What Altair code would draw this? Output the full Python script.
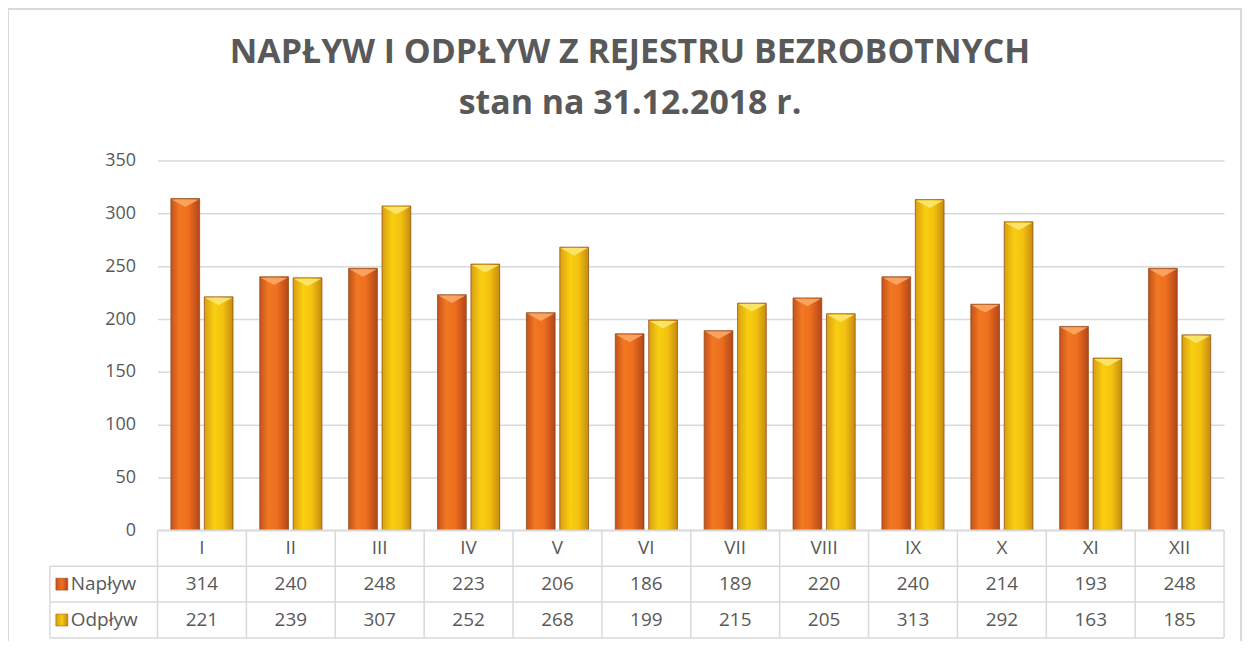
import altair as alt
import pandas as pd

months = ["I", "II", "III", "IV", "V", "VI", "VII", "VIII", "IX", "X", "XI", "XII"]
naplyw = [314, 240, 248, 223, 206, 186, 189, 220, 240, 214, 193, 248]
odplyw = [221, 239, 307, 252, 268, 199, 215, 205, 313, 292, 163, 185]
series = ["Napływ", "Odpływ"]
y_ticks = [0, 50, 100, 150, 200, 250, 300, 350]
title_lines = ["NAPŁYW I ODPŁYW Z REJESTRU BEZROBOTNYCH", "stan na 31.12.2018 r."]

W, H = 1070, 371
FONT = "Open Sans"
GRAY = "#595959"
LINE = "#d9d9d9"

long = pd.DataFrame({
    "month": months * 2,
    "series": [series[0]] * len(months) + [series[1]] * len(months),
    "value": naplyw + odplyw,
})
wide = pd.DataFrame({"month": months})
legend_df = pd.DataFrame({"series": series})
title_df = pd.DataFrame({"line": [0, 1], "text": title_lines})


def grad(stops):
    return alt.Gradient(
        gradient="linear", x1=0, y1=0, x2=1, y2=0,
        stops=[alt.GradientStop(color=c, offset=o) for o, c in stops],
    )


orange = grad([(0, "#c4521c"), (0.3, "#f27822"), (0.6, "#ee6f1e"), (1, "#b4461a")])
yellow = grad([(0, "#d99e12"), (0.35, "#f9cf10"), (0.65, "#f3c10e"), (1, "#c58c10")])
orange_sq = grad([(0, "#c4521c"), (0.5, "#f07020"), (1, "#b4461a")])
yellow_sq = grad([(0, "#d99e12"), (0.5, "#f6c812"), (1, "#c58c10")])

xs = alt.Scale(domain=months, paddingInner=0, paddingOuter=0)
x_enc = alt.X("month:N", sort=months, scale=xs, axis=None)
x_edge = alt.X("month:N", sort=months, scale=xs, axis=None, bandPosition=0)
xoff = alt.XOffset("series:N", scale=alt.Scale(domain=series, paddingInner=0.14, paddingOuter=0.4))
y_enc = alt.Y(
    "value:Q",
    scale=alt.Scale(domain=[0, 350], nice=False),
    axis=alt.Axis(
        values=y_ticks, grid=True, gridColor=LINE, gridWidth=1.5, domain=False, ticks=False,
        labelColor=GRAY, labelFont=FONT, labelFontSize=18, labelPadding=22, title=None,
    ),
)

layers = []

# outer border
one = alt.Data(values=[{"a": 1}])
layers.append(
    alt.Chart(one).mark_rect(fill=None, stroke=LINE, strokeWidth=2).encode(
        x=alt.value(-150), x2=alt.value(W + 17), y=alt.value(-152), y2=alt.value(H + 130)
    )
)

# title
for i in range(2):
    layers.append(
        alt.Chart(title_df).transform_filter(alt.datum.line == i).mark_text(
            font=FONT, fontSize=34, fontWeight="bold", color=GRAY, align="center", baseline="middle"
        ).encode(x=alt.value(474), y=alt.value(-108 + 51 * i), text="text:N")
    )

for s, g, tri in [(series[0], orange, "#f9a563"), (series[1], yellow, "#fbe56e")]:
    base = alt.Chart(long).transform_filter(alt.datum.series == s)
    layers.append(
        base.mark_bar(fill=g, stroke="#8a420e", strokeWidth=1, strokeOpacity=0.7).encode(
            x=x_enc, xOffset=xoff, y=y_enc
        )
    )
    layers.append(
        base.mark_point(
            shape="M-1,-1L1,-1L0,-0.45Z", filled=True, size=740, yOffset=14.5, color=tri, opacity=0.95
        ).encode(x=x_enc, xOffset=xoff, y=y_enc)
    )

# table lines
rule = dict(color=LINE, strokeWidth=1.5)
layers.append(alt.Chart(wide).mark_rule(**rule).encode(x=x_edge, y=alt.value(H), y2=alt.value(H + 108)))
layers.append(alt.Chart(one).mark_rule(**rule).encode(x=alt.value(W), y=alt.value(H), y2=alt.value(H + 108)))
layers.append(alt.Chart(one).mark_rule(**rule).encode(x=alt.value(-108), y=alt.value(H + 36), y2=alt.value(H + 108)))
layers.append(alt.Chart(one).mark_rule(**rule).encode(x=alt.value(0), x2=alt.value(W), y=alt.value(H)))
for k in (1, 2, 3):
    layers.append(
        alt.Chart(one).mark_rule(**rule).encode(x=alt.value(-108), x2=alt.value(W), y=alt.value(H + 36 * k))
    )

# table texts
txt = dict(font=FONT, fontSize=19, color=GRAY, baseline="middle", align="center")
layers.append(alt.Chart(wide).mark_text(**txt).encode(x=x_enc, y=alt.value(H + 18), text="month:N"))
for i, s in enumerate(series):
    layers.append(
        alt.Chart(long).transform_filter(alt.datum.series == s).mark_text(**txt).encode(
            x=x_enc, y=alt.value(H + 54 + 36 * i), text="value:Q"
        )
    )
    layers.append(
        alt.Chart(legend_df).transform_filter(alt.datum.series == s).mark_rect(
            fill=orange_sq if i == 0 else yellow_sq, stroke="#9a4a10", strokeWidth=0.5
        ).encode(x=alt.value(-102), x2=alt.value(-90), y=alt.value(H + 48 + 36 * i), y2=alt.value(H + 60 + 36 * i))
    )
    layers.append(
        alt.Chart(legend_df).transform_filter(alt.datum.series == s).mark_text(
            font=FONT, fontSize=19, color=GRAY, baseline="middle", align="left"
        ).encode(x=alt.value(-87), y=alt.value(H + 54 + 36 * i), text="series:N")
    )

chart = (
    alt.layer(*layers)
    .properties(
        width=W, height=H,
        autosize=alt.AutoSizeParams(type="none"),
        padding={"left": 150, "top": 152, "right": 20, "bottom": 110},
        background="white",
    )
    .configure_view(stroke=None)
)

chart.save("out.html", embed_options={"renderer": "svg", "actions": False})
